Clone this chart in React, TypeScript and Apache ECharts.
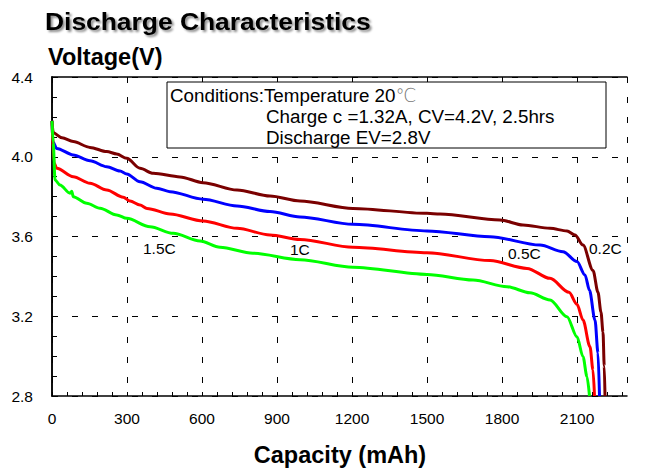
import React, { useEffect, useRef } from "react";
import * as echarts from "echarts";

// Capacity (mAh) and voltage (V)
const cap02 = [0, 5, 40, 85, 152, 219, 259, 299, 352, 405, 512, 604, 740, 872, 992, 1204, 1500, 1552, 1792, 1884, 1992, 2060, 2092, 2124, 2164, 2184, 2196, 2204, 2209, 2212];
const volt02 = [4.18, 4.12, 4.095, 4.076, 4.047, 4.026, 4.014, 3.992, 3.942, 3.917, 3.899, 3.87, 3.833, 3.803, 3.778, 3.741, 3.716, 3.713, 3.683, 3.658, 3.641, 3.628, 3.608, 3.557, 3.43, 3.32, 3.22, 3.12, 2.95, 2.8];

const cap05 = [0, 3, 19, 85, 152, 219, 272, 299, 352, 419, 472, 604, 740, 872, 992, 1204, 1500, 1752, 1952, 2044, 2100, 2132, 2150, 2172, 2184, 2190];
const volt05 = [4.18, 4.075, 4.042, 4.009, 3.98, 3.95, 3.928, 3.914, 3.875, 3.842, 3.825, 3.787, 3.753, 3.725, 3.698, 3.661, 3.628, 3.599, 3.557, 3.524, 3.474, 3.407, 3.33, 3.181, 3.016, 2.8];

const cap1 = [0, 8, 19, 85, 152, 219, 285, 312, 352, 380, 472, 604, 740, 872, 992, 1204, 1500, 1752, 1900, 1992, 2068, 2100, 2124, 2152, 2164, 2170];
const volt1 = [4.18, 3.97, 3.942, 3.9, 3.867, 3.833, 3.797, 3.778, 3.758, 3.741, 3.713, 3.678, 3.641, 3.608, 3.585, 3.546, 3.519, 3.479, 3.44, 3.39, 3.32, 3.26, 3.181, 3.047, 2.93, 2.8];

const cap15 = [0, 5, 12, 32, 72, 79, 85, 139, 192, 259, 299, 392, 485, 592, 672, 804, 992, 1204, 1500, 1684, 1820, 1912, 1992, 2060, 2100, 2124, 2140, 2150];
const volt15 = [4.18, 4.07, 3.884, 3.858, 3.817, 3.827, 3.8, 3.767, 3.742, 3.708, 3.691, 3.649, 3.616, 3.577, 3.546, 3.516, 3.484, 3.446, 3.41, 3.382, 3.348, 3.318, 3.282, 3.198, 3.097, 2.997, 2.897, 2.8];

const rateLabels = ["0.2C", "0.5C", "1C", "1.5C"];
const rateColors = ["#7a0000", "#0000ff", "#ff0000", "#00ff00"];

const FONT = "'Liberation Sans', Arial, Helvetica, sans-serif";

const pairs = (xs: number[], ys: number[]) => xs.map((x, i) => [x, ys[i]]);

export default function App() {
  const ref = useRef<HTMLDivElement>(null);
  useEffect(() => {
    if (!ref.current) return;
    const chart = echarts.init(ref.current, undefined, { renderer: "svg" });
    const seriesData = [pairs(cap02, volt02), pairs(cap05, volt05), pairs(cap1, volt1), pairs(cap15, volt15)];
    const dash = { color: "#000", width: 1, type: [6, 14] as any };
    const axisLine = { show: true, lineStyle: { color: "#000", width: 1.5 } };
    const txt = (text: string, x: number, y: number, size: number, bold: boolean, align = "left", extra: any = {}) => ({
      type: "text",
      x,
      y,
      z: 100,
      ...extra,
      style: {
        text,
        fill: "#000",
        font: `${bold ? "bold " : ""}${size}px ${FONT}`,
        fontSize: size,
        fontWeight: bold ? "bold" : "normal",
        fontFamily: FONT,
        align,
        verticalAlign: "middle",
        textAlign: align,
        textVerticalAlign: "middle",
        ...(extra.style || {}),
      },
    });
    const option: any = {
      animation: false,
      backgroundColor: "#fff",
      grid: { left: 52, right: 21, top: 77, bottom: 78, containLabel: false },
      xAxis: [
        {
          type: "value",
          position: "bottom",
          min: 0,
          max: 2300,
          interval: 60,
          axisLine,
          axisTick: { show: true, inside: true, length: 4, lineStyle: { color: "#000", width: 1 } },
          axisLabel: {
            color: "#000",
            fontSize: 15.5,
            fontFamily: FONT,
            margin: 14,
            showMaxLabel: false,
            formatter: (v: number) => (v % 300 === 0 && v <= 2100 ? String(v) : ""),
          },
          splitLine: { show: false },
        },
        {
          type: "value",
          position: "top",
          min: 0,
          max: 2300,
          interval: 300,
          axisLine,
          axisTick: { show: false },
          axisLabel: { show: false },
          splitLine: { show: true, lineStyle: dash },
        },
      ],
      yAxis: [
        {
          type: "value",
          position: "left",
          min: 2.8,
          max: 4.4,
          interval: 0.1,
          axisLine,
          axisTick: { show: true, inside: true, length: 5, lineStyle: { color: "#000", width: 1 } },
          axisLabel: {
            color: "#000",
            fontSize: 15.5,
            fontFamily: FONT,
            margin: 19,
            formatter: (v: number) => {
              const k = Math.round(v * 10);
              return k % 4 === 0 && Math.abs(v * 10 - k) < 1e-6 ? v.toFixed(1) : "";
            },
          },
          splitLine: { show: false },
        },
        {
          type: "value",
          position: "right",
          min: 2.8,
          max: 4.4,
          interval: 0.4,
          axisLine,
          axisTick: { show: false },
          axisLabel: { show: false },
          splitLine: { show: true, lineStyle: dash },
        },
      ],
      series: seriesData.map((d, i) => ({
        name: rateLabels[i],
        type: "line",
        xAxisIndex: 0,
        yAxisIndex: 0,
        data: d,
        showSymbol: false,
        smooth: 0.3,
        smoothMonotone: "x",
        lineStyle: { color: rateColors[i], width: 3 },
        itemStyle: { color: rateColors[i] },
        z: 3 + i,
      })),
      graphic: [
        txt("Discharge Characteristics", 45, 21, 24, true, "left", {
          scaleX: 1.1,
          style: { textShadowColor: "rgba(0,0,0,0.45)", textShadowBlur: 2, textShadowOffsetX: 2, textShadowOffsetY: 2 },
        }),
        txt("Voltage(V)", 48, 57, 23.5, true),
        txt("Capacity (mAh)", 340, 455, 23.5, true, "center"),
        {
          type: "rect",
          z: 99,
          shape: { x: 167, y: 82, width: 439, height: 66 },
          style: { fill: "#fff", stroke: "#000", lineWidth: 1 },
        },
        {
          type: "text",
          x: 170,
          y: 95,
          z: 100,
          style: {
            text: "Conditions:Temperature 20{d|℃}",
            font: `18.8px ${FONT}`,
            fontSize: 18.8,
            fontFamily: FONT,
            fill: "#000",
            verticalAlign: "middle",
            textVerticalAlign: "middle",
            rich: { d: { fontSize: 18.8, fontFamily: "'DejaVu Sans', sans-serif", fill: "#777", color: "#777", fontWeight: "lighter" } },
          },
        },
        txt("Charge c =1.32A, CV=4.2V, 2.5hrs", 266, 116.5, 18.8, false),
        txt("Discharge EV=2.8V", 266, 137, 18.8, false),
        txt("1.5C", 143, 248, 15.5, false),
        txt("1C", 290, 249, 15.5, false),
        txt("0.5C", 508, 253, 15.5, false),
        txt("0.2C", 589, 248.5, 15.5, false),
      ],
    };
    chart.setOption(option);
    return () => chart.dispose();
  }, []);
  return <div ref={ref} style={{ position: "absolute", left: 0, top: 0, width: 648, height: 474 }} />;
}
